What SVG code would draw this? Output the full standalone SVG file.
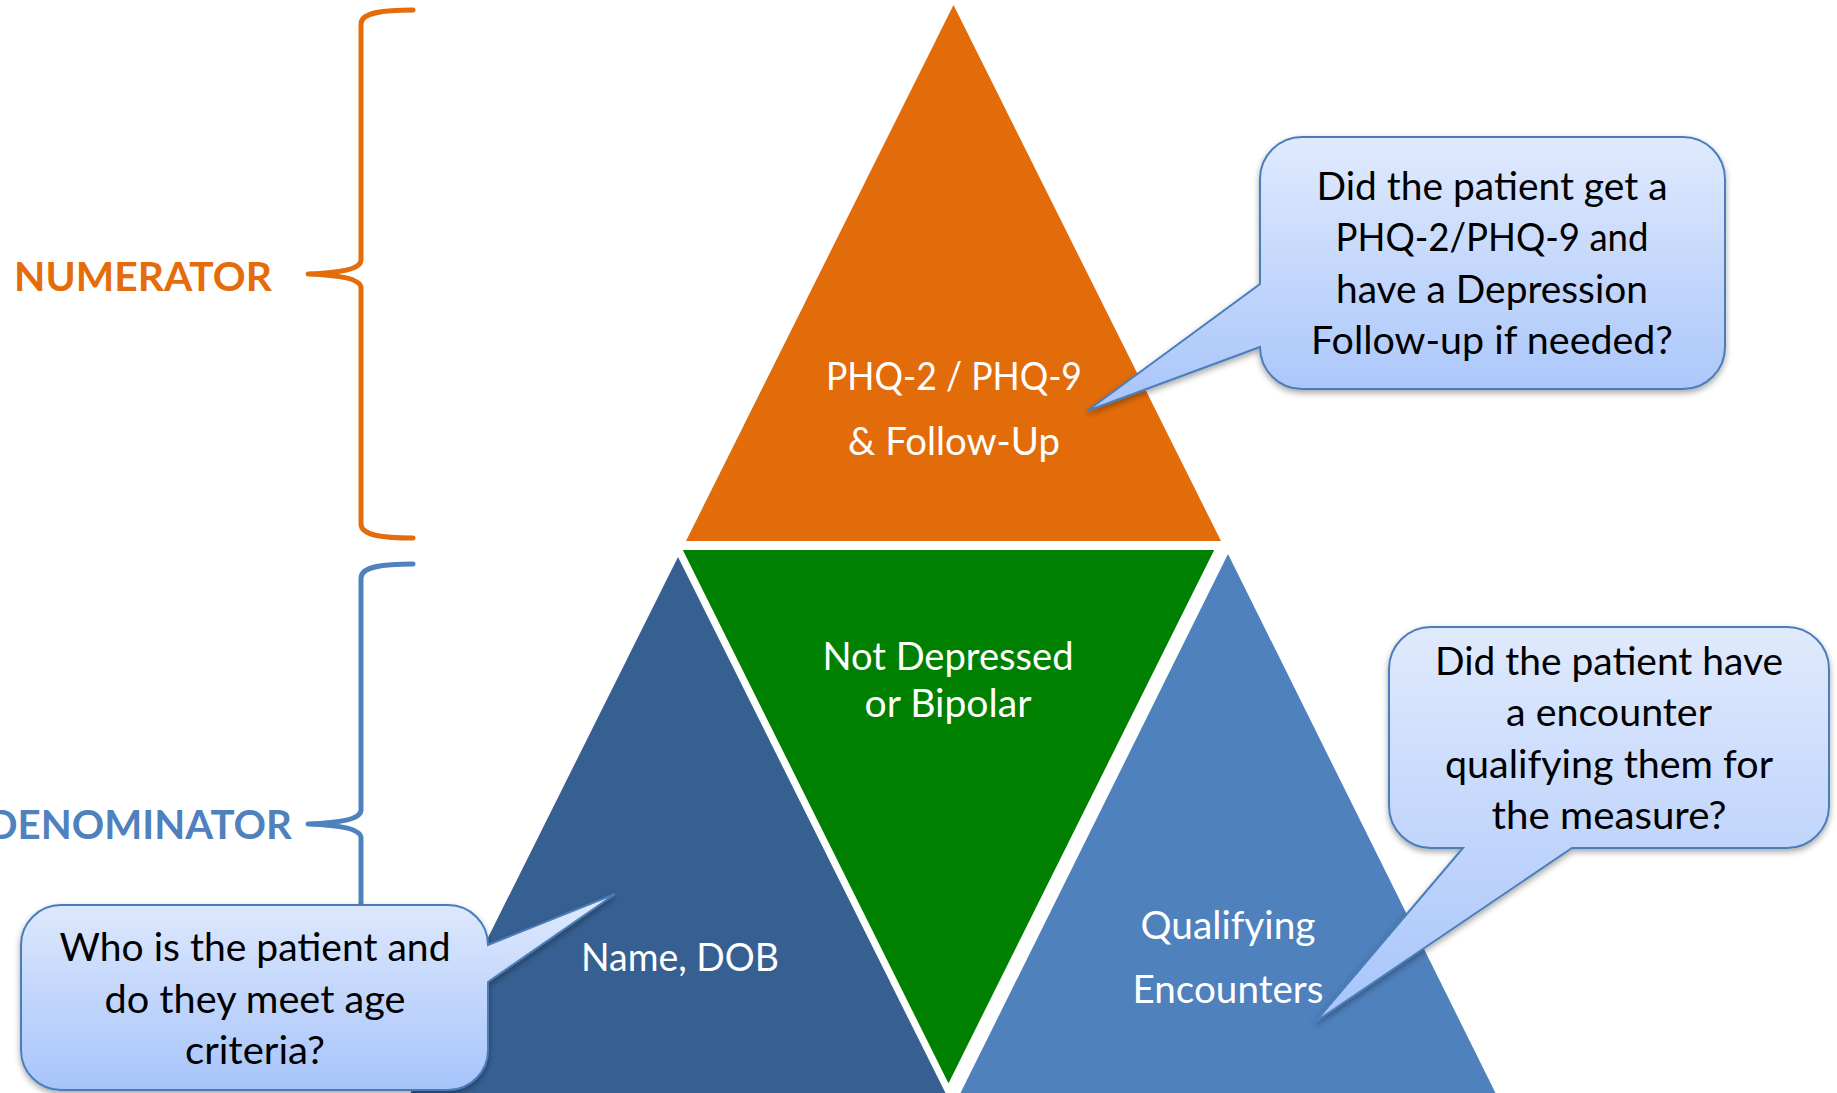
<svg xmlns="http://www.w3.org/2000/svg" width="1837" height="1093" viewBox="0 0 1837 1093">
  <defs>
    <linearGradient id="calloutFill" x1="0" y1="0" x2="0" y2="1">
      <stop offset="0" stop-color="#e0eafd"/>
      <stop offset="1" stop-color="#a7c4fa"/>
    </linearGradient>
    <filter id="softShadow" x="-10%" y="-10%" width="120%" height="130%">
      <feDropShadow dx="0" dy="3" stdDeviation="3" flood-color="#000" flood-opacity="0.35"/>
    </filter>
  </defs>
  <style>
    .lbl { font-family: Lato, "Open Sans", sans-serif; font-size: 38px; fill: #ffffff; text-anchor: middle; }
    .note { font-family: Lato, "Open Sans", sans-serif; font-size: 38px; fill: #000000; text-anchor: middle; }
    .side { font-family: Lato, "Open Sans", sans-serif; font-size: 41px; font-weight: bold; }
    .callout { fill: url(#calloutFill); stroke: #4a7ebb; stroke-width: 2; filter: url(#softShadow); }
    .brace { fill: none; stroke-width: 5; stroke-linecap: round; stroke-linejoin: round; }
  </style>

  <rect width="1837" height="1093" fill="#ffffff"/>

  <!-- lower tier: two blue triangles, green inverted triangle between them -->
  <g id="demographics">
    <polygon points="678,557 948,1098 408,1098" fill="#376092"/>
    <text class="lbl" x="680" y="971" textLength="198" lengthAdjust="spacingAndGlyphs">Name, DOB</text>
  </g>
  <g id="encounters">
    <polygon points="1228,554 1498,1098 958,1098" fill="#4f81bd"/>
    <text class="lbl" x="1228" y="939" textLength="175" lengthAdjust="spacingAndGlyphs">Qualifying</text>
    <text class="lbl" x="1228" y="1003" textLength="191" lengthAdjust="spacingAndGlyphs">Encounters</text>
  </g>
  <g id="exclusions">
    <polygon points="678,547 1219,547 948.5,1090" fill="#008000" stroke="#ffffff" stroke-width="6" stroke-linejoin="miter"/>
    <text class="lbl" x="948" y="670" textLength="251" lengthAdjust="spacingAndGlyphs">Not Depressed</text>
    <text class="lbl" x="948" y="717" textLength="167" lengthAdjust="spacingAndGlyphs">or Bipolar</text>
  </g>

  <!-- top tier -->
  <g id="screening">
    <polygon points="953.5,5 1221,541 686,541" fill="#e36c0a"/>
    <text class="lbl" x="954" y="390" textLength="256" lengthAdjust="spacingAndGlyphs">PHQ-2 / PHQ-9</text>
    <text class="lbl" x="954" y="455" textLength="212" lengthAdjust="spacingAndGlyphs">&amp; Follow-Up</text>
  </g>

  <!-- side labels with curly braces -->
  <g id="connectors">
    <path class="brace" stroke="#e46c0a" d="M413,10 C385,10 361,12 361,24 V260 C361,270 336,273 308,274 C336,275 361,278 361,288 V524 C361,536 385,538 413,538"/>
    <path class="brace" stroke="#4f81bd" d="M413,564 C385,564 361,566 361,578 V810 C361,820 336,823 308,824 C336,825 361,828 361,838 V1070 C361,1082 385,1084 413,1084"/>
  </g>
  <g id="numerator">
    <text class="side" x="14" y="291" fill="#e46c0a" textLength="258" lengthAdjust="spacingAndGlyphs">NUMERATOR</text>
  </g>
  <g id="denominator">
    <text class="side" x="-13" y="839" fill="#4f81bd" textLength="305" lengthAdjust="spacingAndGlyphs">DENOMINATOR</text>
  </g>

  <!-- speech callouts -->
  <g id="callout-numerator">
    <path class="callout" d="M1302,137 H1683 A42,42 0 0 1 1725,179 V347 A42,42 0 0 1 1683,389 H1302 A42,42 0 0 1 1260,347 L1087,411 L1260,284 V179 A42,42 0 0 1 1302,137 Z"/>
    <text class="note" x="1492" y="200" textLength="351" lengthAdjust="spacingAndGlyphs">Did the patient get a</text>
    <text class="note" x="1492" y="251" textLength="313" lengthAdjust="spacingAndGlyphs">PHQ-2/PHQ-9 and</text>
    <text class="note" x="1492" y="303" textLength="312" lengthAdjust="spacingAndGlyphs">have a Depression</text>
    <text class="note" x="1492" y="354" textLength="362" lengthAdjust="spacingAndGlyphs">Follow-up if needed?</text>
  </g>
  <g id="callout-encounters">
    <path class="callout" d="M1431,627 H1787 A42,42 0 0 1 1829,669 V806 A42,42 0 0 1 1787,848 H1572 L1315,1022 L1463,848 H1431 A42,42 0 0 1 1389,806 V669 A42,42 0 0 1 1431,627 Z"/>
    <text class="note" x="1609" y="675" textLength="348" lengthAdjust="spacingAndGlyphs">Did the patient have</text>
    <text class="note" x="1609" y="726" textLength="206" lengthAdjust="spacingAndGlyphs">a encounter</text>
    <text class="note" x="1609" y="778" textLength="328" lengthAdjust="spacingAndGlyphs">qualifying them for</text>
    <text class="note" x="1609" y="829" textLength="235" lengthAdjust="spacingAndGlyphs">the measure?</text>
  </g>
  <g id="callout-demographics">
    <path class="callout" d="M61,905 H448 A40,40 0 0 1 488,945 L615,894 L488,982 V1050 A40,40 0 0 1 448,1090 H61 A40,40 0 0 1 21,1050 V945 A40,40 0 0 1 61,905 Z"/>
    <text class="note" x="255" y="961" textLength="391" lengthAdjust="spacingAndGlyphs">Who is the patient and</text>
    <text class="note" x="255" y="1013" textLength="301" lengthAdjust="spacingAndGlyphs">do they meet age</text>
    <text class="note" x="255" y="1064" textLength="140" lengthAdjust="spacingAndGlyphs">criteria?</text>
  </g>
</svg>
